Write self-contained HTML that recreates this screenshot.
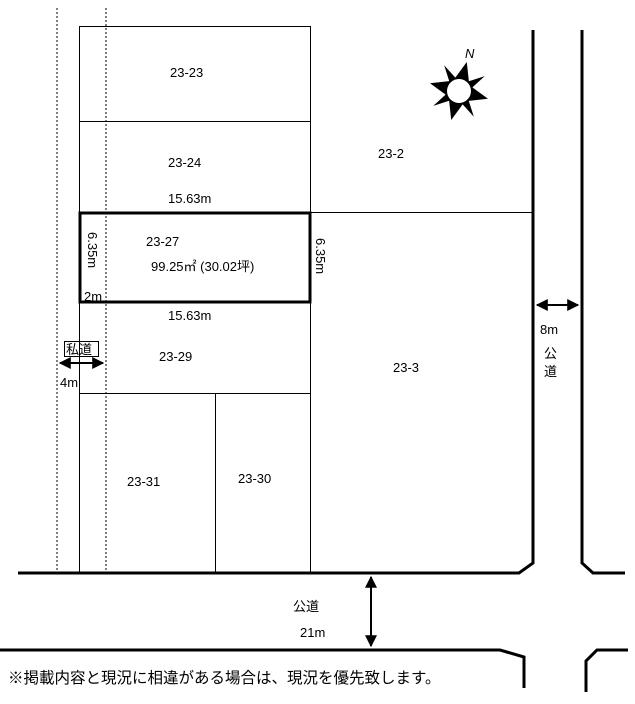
<!DOCTYPE html>
<html><head><meta charset="utf-8"><style>
body{margin:0;background:#fff}
svg text{font-family:"Liberation Sans","Noto Sans CJK JP",sans-serif;font-size:13px;fill:#000}
</style></head><body>
<svg width="635" height="699" viewBox="0 0 635 699" xmlns="http://www.w3.org/2000/svg">
<defs><marker id="a" viewBox="0 0 10 10" refX="9" refY="5" markerWidth="6" markerHeight="6" orient="auto-start-reverse"><path d="M0,0L10,5L0,10z" fill="#000"/></marker></defs>
<g stroke="#000" fill="none">
<line x1="57" y1="8" x2="57" y2="573" stroke-dasharray="2,2"/>
<line x1="106" y1="8" x2="106" y2="573" stroke-dasharray="2,2"/>
<rect x="79.5" y="26.5" width="231" height="547"/>
<line x1="79" y1="121.5" x2="310" y2="121.5"/>
<line x1="310" y1="212.5" x2="533" y2="212.5"/>
<line x1="79" y1="393.5" x2="310" y2="393.5"/>
<line x1="215.5" y1="393" x2="215.5" y2="573"/>
<rect x="80" y="213" width="230" height="89" stroke-width="3"/>
<g stroke-width="3">
<polyline points="18,573 519,573 533,563 533,30"/>
<polyline points="582,30 582,563 593,573 625,573"/>
<polyline points="0,650 500,650 524,657 524,688"/>
<polyline points="586,692 586,661 597,650 628,650"/>
</g>
<line x1="537" y1="305" x2="578" y2="305" stroke-width="2" marker-start="url(#a)" marker-end="url(#a)"/>
<line x1="371" y1="577" x2="371" y2="646" stroke-width="2" marker-start="url(#a)" marker-end="url(#a)"/>
<line x1="60" y1="363" x2="103" y2="363" stroke-width="2" marker-start="url(#a)" marker-end="url(#a)"/>
<rect x="64.5" y="341.5" width="34" height="15" stroke-width="1"/>
</g>
<g transform="translate(459,91) rotate(15)">
<polygon fill="#000" points="0,-30 7,-12 21,-21 12,-7 30,0 12,7 21,21 7,12 0,30 -7,12 -21,21 -12,7 -30,0 -12,-7 -21,-21 -7,-12"/>
<circle r="12" fill="#fff"/>
</g>
<text x="465" y="58" font-style="italic" font-family="Liberation Serif">N</text>
<text x="170" y="77">23-23</text>
<text x="168" y="167">23-24</text>
<text x="168" y="203">15.63m</text>
<text x="378" y="158">23-2</text>
<text x="146" y="246">23-27</text>
<text x="151" y="271">99.25㎡ (30.02坪)</text>
<text x="168" y="320">15.63m</text>
<text x="84" y="301">2m</text>
<text x="159" y="361">23-29</text>
<text x="393" y="372">23-3</text>
<text x="127" y="486">23-31</text>
<text x="238" y="483">23-30</text>
<text x="60" y="387">4m</text>
<text x="66" y="354">私道</text>
<text x="540" y="334">8m</text>
<text x="544" y="358">公</text>
<text x="544" y="376">道</text>
<text x="293" y="611">公道</text>
<text x="300" y="637">21m</text>
<text x="8" y="683" style="font-size:15.5px">※掲載内容と現況に相違がある場合は、現況を優先致します。</text>
<text transform="translate(88,232) rotate(90)">6.35m</text>
<text transform="translate(316,238) rotate(90)">6.35m</text>
</svg>
</body></html>
